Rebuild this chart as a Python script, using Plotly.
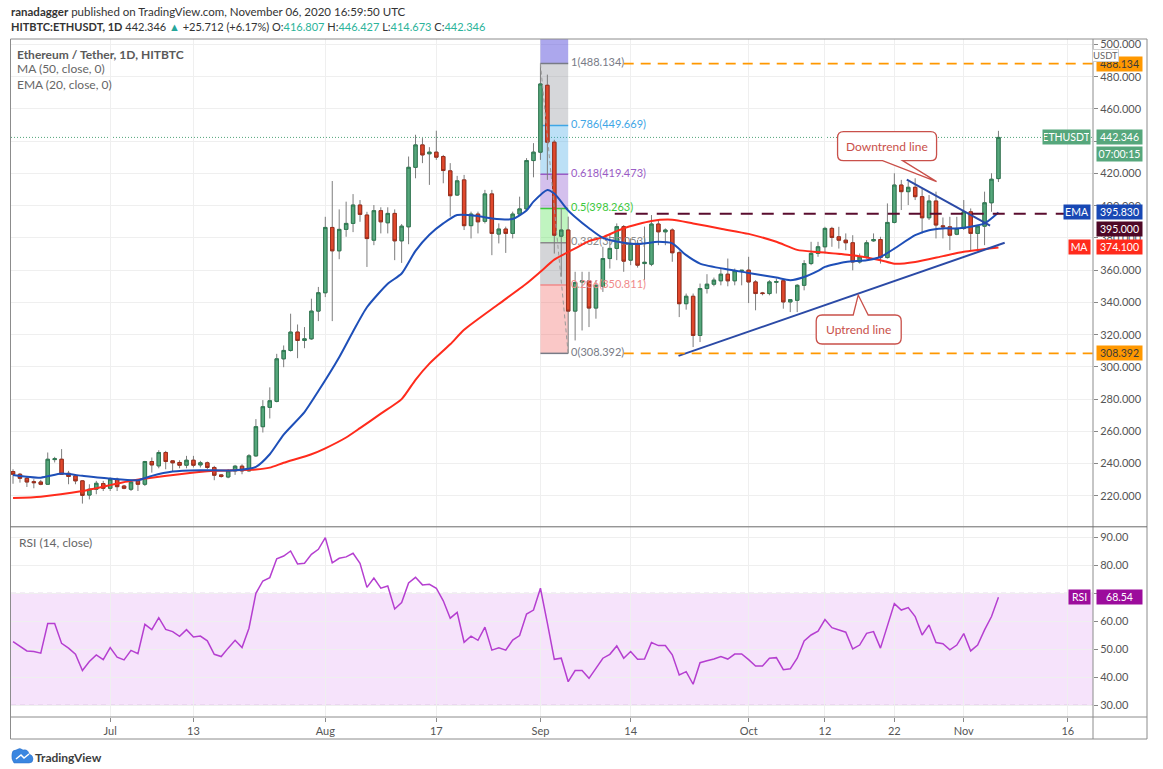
import pandas as pd
import plotly.graph_objects as go

FONT = "Lato"

# ---------------- data ----------------
dates = pd.date_range("2020-06-17", periods=143, freq="D")

open_ = [235.1, 233.4, 230.9, 228.8, 228.6, 227.2, 242.5, 242.7, 234.0, 232.4,
         229.3, 220.5, 224.1, 227.6, 224.7, 230.3, 226.1, 224.1, 229.3, 227.2,
         241.3, 238.6, 246.9, 241.7, 240.7, 239.0, 242.1, 239.2, 240.5, 237.6,
         233.0, 231.7, 235.5, 238.4, 235.5, 244.8, 262.9, 274.9, 278.6, 305.0,
         310.2, 321.6, 316.4, 317.4, 334.6, 346.0, 386.5, 372.0, 385.3, 389.0,
         400.4, 394.2, 378.6, 396.9, 389.4, 395.2, 378.2, 386.9, 423.8, 437.7,
         432.2, 433.2, 430.5, 421.6, 406.6, 416.0, 387.6, 394.8, 390.3, 407.3,
         382.4, 385.5, 382.8, 394.8, 398.0, 428.0, 433.2, 474.7, 439.4, 381.1,
         384.9, 334.6, 352.7, 353.3, 336.5, 350.0, 367.2, 373.5, 387.0, 366.2,
         376.6, 364.1, 363.7, 388.6, 383.8, 384.9, 370.8, 339.2, 343.8, 319.5,
         348.6, 351.3, 353.4, 357.5, 353.4, 359.6, 360.0, 352.7, 345.9, 345.5,
         352.5, 353.4, 340.3, 341.3, 350.6, 364.1, 370.4, 374.5, 385.9, 380.7,
         378.6, 377.0, 365.1, 368.2, 378.2, 379.0, 367.8, 389.6, 412.8, 408.7,
         411.4, 405.6, 392.5, 402.9, 387.5, 386.9, 382.3, 385.9, 396.2, 382.8,
         387.3, 401.8, 416.807]
high = [236.5, 234.2, 232.4, 230.3, 229.9, 246.9, 244.2, 249.0, 235.5, 233.0,
        229.7, 227.2, 229.3, 229.3, 231.3, 231.3, 226.8, 229.7, 230.3, 241.7,
        243.8, 248.3, 247.9, 242.1, 242.1, 244.8, 244.8, 241.7, 241.3, 238.6,
        233.4, 236.5, 239.2, 239.6, 245.9, 267.6, 279.4, 287.3, 308.1, 313.3,
        333.0, 326.3, 324.7, 342.3, 349.6, 393.1, 415.3, 397.7, 402.5, 407.2,
        403.5, 396.2, 400.4, 399.0, 399.0, 397.7, 388.6, 430.5, 444.0, 441.9,
        436.3, 446.5, 431.5, 426.4, 418.5, 419.1, 396.3, 396.3, 409.8, 409.8,
        389.0, 387.0, 396.3, 405.6, 429.5, 438.8, 488.134, 481.3, 440.9, 398.3,
        393.2, 359.0, 359.0, 359.0, 353.7, 374.5, 381.8, 389.0, 388.0, 379.7,
        378.7, 387.0, 394.2, 391.5, 385.9, 385.9, 372.0, 345.5, 345.5, 351.7,
        357.5, 355.4, 361.0, 367.2, 361.0, 360.0, 368.3, 353.8, 346.5, 353.8,
        354.8, 354.2, 341.9, 351.3, 366.2, 377.6, 377.6, 386.9, 386.9, 386.9,
        382.8, 381.7, 370.3, 378.6, 382.8, 380.7, 401.4, 420.1, 416.0, 414.9,
        417.0, 410.8, 406.6, 408.7, 392.7, 393.1, 393.1, 403.5, 398.3, 388.0,
        408.7, 420.1, 446.427]
low = [227.5, 228.2, 225.5, 224.7, 226.6, 226.8, 240.7, 233.0, 227.2, 227.2,
       215.2, 217.8, 221.0, 223.0, 223.0, 223.0, 224.1, 223.0, 223.0, 226.1,
       234.4, 237.1, 236.5, 235.1, 237.1, 237.1, 237.6, 237.6, 236.5, 229.7,
       231.3, 230.9, 233.0, 233.4, 235.1, 244.2, 259.3, 268.0, 278.0, 299.8,
       309.5, 305.4, 311.6, 316.8, 328.4, 343.3, 328.4, 366.8, 380.7, 383.6,
       390.0, 362.0, 375.5, 382.8, 382.8, 366.2, 364.5, 376.1, 417.0, 426.4,
       412.9, 428.4, 413.9, 393.2, 406.0, 384.9, 379.7, 382.8, 389.0, 369.3,
       376.6, 370.7, 379.7, 394.2, 397.3, 417.6, 428.4, 416.0, 370.3, 356.0,
       308.392, 316.4, 322.6, 324.7, 329.9, 346.5, 361.0, 366.2, 359.0, 363.1,
       361.6, 353.8, 362.5, 375.5, 375.5, 365.2, 330.9, 335.5, 312.3, 315.4,
       345.5, 350.0, 350.6, 350.0, 350.6, 350.6, 339.6, 335.1, 344.4, 344.4,
       345.5, 336.1, 334.0, 334.0, 347.5, 363.1, 368.3, 370.3, 374.5, 373.4,
       372.4, 359.9, 364.1, 367.2, 377.6, 364.1, 367.2, 389.0, 397.3, 400.4,
       403.5, 382.8, 391.1, 379.7, 379.7, 372.4, 381.7, 384.9, 372.4, 372.4,
       375.5, 396.2, 414.673]
close = [233.4, 230.9, 228.6, 228.2, 227.2, 242.7, 243.0, 233.4, 232.0, 229.3,
         220.3, 224.1, 227.8, 224.7, 230.3, 225.7, 224.7, 228.6, 227.2, 241.3,
         239.2, 246.9, 241.3, 240.5, 239.0, 242.1, 239.0, 240.5, 237.6, 232.8,
         232.0, 235.5, 238.4, 235.5, 244.8, 262.9, 275.3, 279.0, 305.0, 310.2,
         321.6, 316.4, 317.4, 334.6, 346.0, 386.5, 372.0, 385.3, 389.0, 400.4,
         394.6, 379.6, 396.9, 390.0, 395.2, 378.2, 387.3, 423.8, 437.7, 431.5,
         433.2, 430.1, 421.8, 406.2, 415.4, 387.6, 394.8, 390.0, 407.3, 382.8,
         385.5, 382.8, 394.8, 398.0, 428.0, 433.2, 475.5, 439.4, 381.7, 384.9,
         334.6, 352.3, 353.3, 336.5, 350.6, 367.2, 373.5, 387.0, 365.6, 376.6,
         363.1, 364.9, 388.6, 383.8, 384.9, 370.8, 339.2, 343.8, 319.5, 348.6,
         351.3, 353.8, 357.5, 353.4, 359.6, 359.9, 352.7, 345.5, 345.5, 352.7,
         352.9, 340.3, 341.7, 350.6, 364.1, 370.4, 374.5, 385.9, 380.3, 378.6,
         377.0, 365.1, 368.2, 377.0, 379.0, 367.8, 389.6, 412.8, 408.7, 411.4,
         405.6, 392.5, 402.9, 388.0, 386.9, 381.7, 385.9, 396.2, 382.8, 387.3,
         401.8, 416.4, 442.346]

rsi = [52.7, 50.9, 49.4, 49.2, 48.6, 59.2, 59.2, 52.1, 50.4, 48.2,
       42.4, 45.6, 48.0, 46.3, 50.6, 47.2, 46.2, 49.6, 48.4, 58.9,
       57.0, 61.3, 57.1, 56.3, 54.6, 57.0, 54.4, 54.7, 53.0, 48.2,
       47.4, 50.4, 53.2, 50.6, 57.5, 70.0, 74.4, 75.6, 82.3, 83.3,
       85.1, 80.5, 80.7, 83.9, 85.7, 89.9, 80.9, 82.5, 83.0, 84.3,
       80.7, 72.1, 75.4, 71.8, 72.6, 64.4, 66.7, 73.7, 75.7, 73.0,
       73.2, 71.8, 67.3, 61.1, 63.2, 52.5, 54.7, 53.2, 57.9, 49.7,
       50.5, 49.7, 53.3, 54.9, 62.6, 64.0, 71.8, 59.3, 46.4, 46.8,
       38.4, 42.4, 42.4, 39.6, 43.2, 46.8, 48.2, 51.2, 46.8, 49.2,
       46.4, 46.5, 52.4, 51.3, 51.3, 48.0, 40.8, 42.0, 37.5, 45.2,
       45.9, 46.5, 47.4, 46.5, 48.3, 48.3, 46.3, 44.0, 44.0, 46.8,
       47.0, 42.7, 43.0, 46.8, 53.0, 55.1, 56.5, 60.6, 57.7, 56.8,
       56.1, 50.1, 51.5, 55.7, 56.3, 50.4, 58.7, 66.3, 64.0, 64.9,
       61.7, 55.1, 58.7, 52.4, 52.0, 49.8, 51.5, 55.6, 49.4, 51.5,
       56.9, 61.7, 68.54]

ma_dates = ["2020-06-17", "2020-06-21", "2020-06-27", "2020-07-04", "2020-07-11",
            "2020-07-16", "2020-07-22", "2020-07-24", "2020-07-26", "2020-07-30",
            "2020-08-01", "2020-08-04", "2020-08-06", "2020-08-09", "2020-08-12",
            "2020-08-14", "2020-08-16", "2020-08-19", "2020-08-21", "2020-08-26",
            "2020-08-30", "2020-09-01", "2020-09-03", "2020-09-06", "2020-09-08",
            "2020-09-10", "2020-09-13", "2020-09-17", "2020-09-20", "2020-09-23",
            "2020-09-27", "2020-10-01", "2020-10-05", "2020-10-08", "2020-10-11",
            "2020-10-16", "2020-10-20", "2020-10-22", "2020-10-25", "2020-10-29",
            "2020-11-01", "2020-11-06"]
ma_vals = [218.6, 219.5, 223.0, 229.3, 233.4, 235.5, 236.3, 237.5, 240.5, 245.8,
           249.5, 256.2, 262.0, 271.0, 280.0, 292.0, 302.0, 314.0, 323.0, 339.0,
           351.7, 359.0, 366.5, 373.5, 378.0, 380.5, 386.0, 390.5, 391.3, 389.0,
           385.7, 382.5, 377.6, 372.6, 371.2, 369.2, 366.2, 364.0, 365.1, 368.7,
           371.4, 374.1]

ema_dates = ["2020-06-17", "2020-06-21", "2020-06-24", "2020-06-27", "2020-07-01",
             "2020-07-05", "2020-07-07", "2020-07-10", "2020-07-14", "2020-07-19",
             "2020-07-22", "2020-07-24", "2020-07-26", "2020-07-29", "2020-07-31",
             "2020-08-03", "2020-08-05", "2020-08-07", "2020-08-10", "2020-08-12",
             "2020-08-14", "2020-08-16", "2020-08-18", "2020-08-20", "2020-08-23",
             "2020-08-25", "2020-08-28", "2020-08-30", "2020-08-31", "2020-09-02",
             "2020-09-03", "2020-09-05", "2020-09-06", "2020-09-08", "2020-09-10",
             "2020-09-13", "2020-09-15", "2020-09-18", "2020-09-20", "2020-09-22",
             "2020-09-24", "2020-09-28", "2020-10-01", "2020-10-05", "2020-10-07",
             "2020-10-09", "2020-10-11", "2020-10-12", "2020-10-15", "2020-10-18",
             "2020-10-20", "2020-10-22", "2020-10-25", "2020-10-27", "2020-10-29",
             "2020-10-31", "2020-11-02", "2020-11-04", "2020-11-06"]
ema_vals = [233.0, 231.3, 233.8, 232.4, 230.7, 229.7, 232.4, 235.1, 235.9, 235.9,
            238.0, 245.8, 258.0, 272.0, 285.0, 306.0, 322.0, 337.0, 351.6, 357.9,
            372.0, 382.0, 389.0, 394.2, 393.6, 392.1, 391.7, 397.0, 402.5, 409.8,
            407.5, 397.0, 393.0, 386.0, 380.0, 377.0, 376.2, 377.6, 376.6, 369.3,
            364.1, 360.4, 358.3, 355.4, 353.8, 355.8, 359.6, 362.0, 365.1, 366.2,
            368.2, 373.4, 381.7, 384.8, 385.9, 385.9, 386.9, 389.0, 395.8]

# Fibonacci retracement (from the 1 Sep high to the 5 Sep low)
fib_dates = ["2020-09-01", "2020-09-05"]
fib_levels = [1, 0.786, 0.618, 0.5, 0.382, 0.236, 0]
fib_prices = [488.134, 449.669, 419.473, 398.263, 377.053, 350.811, 308.392]
fib_line_colors = ["#787b86", "#3ea6e6", "#9a5cc6", "#3cc83c", "#8a8a8a", "#f08a8a", "#787b86"]
fib_fill_colors = ["rgba(120,123,134,0.30)", "rgba(64,166,230,0.35)", "rgba(120,60,200,0.32)",
                   "rgba(60,220,60,0.32)", "rgba(120,123,134,0.32)", "rgba(239,83,80,0.32)"]
fib_top_fill = "rgba(90,80,220,0.50)"

uptrend_x = ["2020-09-20 21:30", "2020-11-06 21:30"]
uptrend_y = [306.8, 377.0]
downtrend_x = ["2020-10-23 19:00", "2020-11-04 19:00"]
downtrend_y = [416.2, 387.7]

resistance = 395.0
resistance_start = "2020-09-11 17:00"
fib_ext_start = "2020-09-13 00:00"

last_price = 442.346
ema_last, ma_last, rsi_last = 395.830, 374.100, 68.54

x_start, x_end = "2020-06-16 17:00", "2020-11-19 15:00"

tick_dates = ["2020-07-01", "2020-07-13", "2020-08-01", "2020-08-17", "2020-09-01",
              "2020-09-14", "2020-10-01", "2020-10-12", "2020-10-22", "2020-11-01", "2020-11-16"]
tick_text = ["Jul", "13", "Aug", "17", "Sep", "14", "Oct", "12", "22", "Nov", "16"]
price_ticks = list(range(220, 501, 20))
rsi_ticks = [30, 40, 50, 60, 70, 80, 90]
# tick labels fully covered by the price / RSI value tags
hidden_price_ticks = [440]
hidden_rsi_ticks = [70]

# ---------------- colours ----------------
UP_FILL, UP_LINE = "#56a77c", "#2f7a52"
DN_FILL, DN_LINE = "#e0482c", "#9c2e1c"
WICK = "#7d7d7d"
EMA_C, MA_C, RSI_C = "#1e4fb8", "#ff2b1c", "#b53fd0"
TREND_C = "#2b4aa6"
ORANGE, MAROON = "#ff9800", "#5a0c2e"
GRID = "#efefef"
FRAME = "#8c8c8c"

# pixel helpers (plot area: x 11..1093, y 39..717)
def px(xp):
    return (xp - 11) / 1082.0

def py(yp):
    return (717 - yp) / 678.0

fig = go.Figure()

# fib labels (drawn under the candles)
lab_x = pd.Timestamp(fib_dates[1]) + pd.Timedelta(hours=10)
for lv, pr, col in zip(fib_levels, fib_prices, fib_line_colors):
    fig.add_trace(go.Scatter(x=[lab_x], y=[pr], mode="text",
                             text=[f"{lv}({pr:.3f})"], textposition="middle right",
                             textfont=dict(family=FONT, size=11, color=col),
                             xaxis="x", yaxis="y", hoverinfo="skip", showlegend=False))
# fib diagonal
fig.add_trace(go.Scatter(x=fib_dates, y=[fib_prices[0], fib_prices[-1]], mode="lines",
                         line=dict(color="#9a9a9a", width=1, dash="4px,3px"),
                         xaxis="x", yaxis="y", hoverinfo="skip", showlegend=False))

# candles: wicks (grey) then bodies
fig.add_trace(go.Candlestick(x=dates, open=open_, high=high, low=low, close=close,
                             increasing=dict(line=dict(color=WICK, width=1), fillcolor=UP_FILL),
                             decreasing=dict(line=dict(color=WICK, width=1), fillcolor=DN_FILL),
                             xaxis="x", yaxis="y", hoverinfo="skip", showlegend=False))
body_hi = [max(o, c) for o, c in zip(open_, close)]
body_lo = [min(o, c) for o, c in zip(open_, close)]
fig.add_trace(go.Candlestick(x=dates, open=open_, high=body_hi, low=body_lo, close=close,
                             increasing=dict(line=dict(color=UP_LINE, width=1), fillcolor=UP_FILL),
                             decreasing=dict(line=dict(color=DN_LINE, width=1), fillcolor=DN_FILL),
                             xaxis="x", yaxis="y", hoverinfo="skip", showlegend=False))

fig.add_trace(go.Scatter(x=ma_dates, y=ma_vals, mode="lines",
                         line=dict(color=MA_C, width=2, shape="spline", smoothing=0.6),
                         xaxis="x", yaxis="y", hoverinfo="skip", showlegend=False))
fig.add_trace(go.Scatter(x=ema_dates, y=ema_vals, mode="lines",
                         line=dict(color=EMA_C, width=2, shape="spline", smoothing=0.6),
                         xaxis="x", yaxis="y", hoverinfo="skip", showlegend=False))
fig.add_trace(go.Scatter(x=uptrend_x, y=uptrend_y, mode="lines",
                         line=dict(color=TREND_C, width=2),
                         xaxis="x", yaxis="y", hoverinfo="skip", showlegend=False))
fig.add_trace(go.Scatter(x=downtrend_x, y=downtrend_y, mode="lines",
                         line=dict(color=TREND_C, width=2),
                         xaxis="x", yaxis="y", hoverinfo="skip", showlegend=False))

# RSI
fig.add_trace(go.Scatter(x=dates, y=rsi, mode="lines", line=dict(color=RSI_C, width=1.5),
                         xaxis="x2", yaxis="y2", hoverinfo="skip", showlegend=False))

shapes = []
# fib zones
shapes.append(dict(type="rect", xref="x", yref="y", x0=fib_dates[0], x1=fib_dates[1],
                   y0=fib_prices[0], y1=503.4, fillcolor=fib_top_fill, line_width=0, layer="between"))
for k in range(len(fib_prices) - 1):
    shapes.append(dict(type="rect", xref="x", yref="y", x0=fib_dates[0], x1=fib_dates[1],
                       y0=fib_prices[k + 1], y1=fib_prices[k], fillcolor=fib_fill_colors[k],
                       line_width=0, layer="between"))
for pr, col in zip(fib_prices, fib_line_colors):
    shapes.append(dict(type="line", xref="x", yref="y", x0=fib_dates[0], x1=fib_dates[1],
                       y0=pr, y1=pr, line=dict(color=col, width=1.5), layer="between"))
# price line
shapes.append(dict(type="line", xref="paper", yref="y", x0=0, x1=1, y0=last_price, y1=last_price,
                   line=dict(color="#53a57b", width=1, dash="1px,2px"), layer="between"))
# horizontal drawings
shapes.append(dict(type="line", xref="x", yref="y", x0=resistance_start, x1=x_end,
                   y0=resistance, y1=resistance, line=dict(color=MAROON, width=2, dash="12px,9px")))
for pr in (fib_prices[0], fib_prices[-1]):
    shapes.append(dict(type="line", xref="x", yref="y", x0=fib_ext_start, x1=x_end,
                       y0=pr, y1=pr, line=dict(color=ORANGE, width=1.6, dash="10px,7px")))
# RSI band
shapes.append(dict(type="rect", xref="paper", yref="y2", x0=0, x1=1, y0=30, y1=70,
                   fillcolor="rgba(190,60,230,0.14)", line_width=0, layer="below"))
for lv in (30, 70):
    shapes.append(dict(type="line", xref="paper", yref="y2", x0=0, x1=1, y0=lv, y1=lv,
                       line=dict(color="#cdb3d6", width=1, dash="5px,4px"), layer="between"))

# callout bubbles (pixel paths anchored at data points, y up)
def bubble(L, R, T, B, r, b1, b2, top):
    if top:
        return (f"M{L+r},{T} L{b1},{T} L0,0 L{b2},{T} L{R-r},{T} Q{R},{T} {R},{T-r} "
                f"L{R},{B+r} Q{R},{B} {R-r},{B} L{L+r},{B} Q{L},{B} {L},{B+r} "
                f"L{L},{T-r} Q{L},{T} {L+r},{T} Z")
    return (f"M{L+r},{T} L{R-r},{T} Q{R},{T} {R},{T-r} L{R},{B+r} Q{R},{B} {R-r},{B} "
            f"L{b2},{B} L0,0 L{b1},{B} L{L+r},{B} Q{L},{B} {L},{B+r} "
            f"L{L},{T-r} Q{L},{T} {L+r},{T} Z")

CALL = "#c9504a"
down_tip = ("2020-10-28 02:00", 414.9)
up_tip = ("2020-10-16 19:00", 344.6)
shapes.append(dict(type="path", xref="x", yref="y", xsizemode="pixel", ysizemode="pixel",
                   xanchor=down_tip[0], yanchor=down_tip[1],
                   path=bubble(-99, 0, 50, 21, 6, -54, -34, False),
                   line=dict(color=CALL, width=1.3), fillcolor="white", layer="above"))
shapes.append(dict(type="path", xref="x", yref="y", xsizemode="pixel", ysizemode="pixel",
                   xanchor=up_tip[0], yanchor=up_tip[1],
                   path=bubble(-42, 43, -20, -49, 6, -5, 10, True),
                   line=dict(color=CALL, width=1.3), fillcolor="white", layer="above"))

# frame
shapes.append(dict(type="rect", xref="paper", yref="paper", x0=px(10.5), x1=px(1147), y0=py(739),
                   y1=py(39), line=dict(color=FRAME, width=1), layer="above"))
shapes.append(dict(type="line", xref="paper", yref="paper", x0=1, x1=1, y0=py(739), y1=py(39),
                   line=dict(color=FRAME, width=1), layer="above"))
shapes.append(dict(type="line", xref="paper", yref="paper", x0=px(10.5), x1=px(1147), y0=0, y1=0,
                   line=dict(color=FRAME, width=1), layer="above"))
shapes.append(dict(type="line", xref="paper", yref="paper", x0=px(10.5), x1=px(1147),
                   y0=py(526.8), y1=py(526.8), line=dict(color="#6a6a6a", width=1), layer="above"))
# TradingView logo
shapes.append(dict(type="path", xref="paper", yref="paper", xsizemode="pixel", ysizemode="pixel",
                   xanchor=px(12), yanchor=py(763),
                   path="M2,0 L17,0 Q21,0 21,4 Q21,8 17,9 Q16,14 11,13 Q8,16 4,13 Q0,13 0,9 Q-1,4 2,0 Z",
                   fillcolor="#3a86e0", line=dict(color="#2a6fc8", width=0.5)))
shapes.append(dict(type="path", xref="paper", yref="paper", xsizemode="pixel", ysizemode="pixel",
                   xanchor=px(12), yanchor=py(763),
                   path="M4,4 L9,8 L12,5 L17,9", line=dict(color="white", width=1.5)))

ann = []

def txt(xp, yp, text, size=12, color="#555", anchor="left", **kw):
    ann.append(dict(x=px(xp), y=py(yp), xref="paper", yref="paper", text=text, showarrow=False,
                    xanchor=anchor, yanchor="middle", font=dict(family=FONT, size=size, color=color), **kw))

TEAL = "#2bb39a"
txt(9, 11, "<b>ranadagger</b> published on TradingView.com, November 06, 2020 16:59:50 UTC",
    size=11.5, color="#333")
txt(9, 27, "<b>HITBTC:ETHUSDT, 1D</b> 442.346 <span style='color:#26a69a'>▲</span> +25.712 (+6.17%) "
    f"O:<span style='color:{TEAL}'>416.807</span> H:<span style='color:{TEAL}'>446.427</span> "
    f"L:<span style='color:{TEAL}'>414.673</span> C:<span style='color:{TEAL}'>442.346</span>",
    size=11, color="#333")
txt(15, 54, "<b>Ethereum / Tether, 1D, HITBTC</b>", size=12, color="#5a5a5a")
txt(15, 69, "MA (50, close, 0)", size=12, color="#666")
txt(15, 84, "EMA (20, close, 0)", size=12, color="#666")
txt(17, 542, "RSI (14, close)", size=12, color="#666")
txt(33, 757, "<b>TradingView</b>", size=12, color="#3d3d3d")

# callout texts
ann.append(dict(x=down_tip[0], y=down_tip[1], xref="x", yref="y", text="Downtrend line", showarrow=False,
                xshift=-49.5, yshift=35.5, font=dict(family=FONT, size=12, color=CALL)))
ann.append(dict(x=up_tip[0], y=up_tip[1], xref="x", yref="y", text="Uptrend line", showarrow=False,
                xshift=0.5, yshift=-34.5, font=dict(family=FONT, size=12, color=CALL)))

def axlabel(y, text, bg, fg="white", yref="y", yshift=0, left=False, width=43):
    ann.append(dict(x=1, xref="paper", y=y, yref=yref, text=text, showarrow=False,
                    xanchor="right" if left else "left", yanchor="middle",
                    bgcolor=bg, width=width, height=12, borderpad=1, yshift=yshift,
                    xshift=-2 if left else 3,
                    font=dict(family=FONT, size=10.5, color=fg)))

axlabel(fib_prices[0], f"{fib_prices[0]:.3f}", ORANGE, fg="#3a3a3a")
axlabel(fib_prices[-1], f"{fib_prices[-1]:.3f}", ORANGE, fg="#3a3a3a")
axlabel(last_price, f"{last_price:.3f}", "#56a77c")
axlabel(last_price, "07:00:15", "#56a77c", yshift=-17)
axlabel(last_price, "ETHUSDT", "#56a77c", left=True, width=45)
axlabel(ema_last, f"{ema_last:.3f}", "#1848b4")
axlabel(ema_last, "EMA", "#1848b4", left=True, width=24)
axlabel(resistance, f"{resistance:.3f}", "#4e0826", yshift=-15)
axlabel(ma_last, f"{ma_last:.3f}", "#ff2b1c")
axlabel(ma_last, "MA", "#ff2b1c", left=True, width=19)
axlabel(rsi_last, f"{rsi_last:.2f}", "#9c0c9c", yref="y2")
axlabel(rsi_last, "RSI", "#9c0c9c", yref="y2", left=True, width=19)
ann.append(dict(x=px(1119), y=py(49), xref="paper", yref="paper", text="USDT", showarrow=False,
                bgcolor="white", bordercolor="#cfcfcf", borderwidth=1, borderpad=0,
                font=dict(family=FONT, size=9.5, color="#666")))

axis_font = dict(family=FONT, size=11, color="#555")
fig.update_layout(
    width=1163, height=769,
    margin=dict(l=11, r=70, t=39, b=52),
    paper_bgcolor="white", plot_bgcolor="white",
    showlegend=False, hovermode=False,
    xaxis=dict(domain=[0, 1], anchor="y", range=[x_start, x_end], tickvals=tick_dates,
               showticklabels=False, showgrid=True, gridcolor=GRID, zeroline=False,
               rangeslider=dict(visible=False), ticks=""),
    xaxis2=dict(domain=[0, 1], anchor="y2", range=[x_start, x_end], tickvals=tick_dates,
                ticktext=tick_text, showgrid=True, gridcolor=GRID, zeroline=False,
                ticks="outside", ticklen=4, tickcolor="#888", tickfont=axis_font),
    yaxis=dict(domain=[0.281, 1], anchor="x", side="right", range=[201.0, 503.4],
               tickvals=price_ticks,
               ticktext=["" if v in hidden_price_ticks else f"{v:.3f}" for v in price_ticks],
               showgrid=True, gridcolor=GRID, zeroline=False, ticks="outside", ticklen=4,
               tickcolor="#888", tickfont=axis_font),
    yaxis2=dict(domain=[0, 0.2795], anchor="x2", side="right", range=[25.8, 93.5],
                tickvals=rsi_ticks,
                ticktext=["" if v in hidden_rsi_ticks else f"{v:.2f}" for v in rsi_ticks],
                showgrid=True, gridcolor=GRID, zeroline=False, ticks="outside", ticklen=4,
                tickcolor="#888", tickfont=axis_font),
    shapes=shapes, annotations=ann,
)

fig.write_html("out.html", config={"staticPlot": True},
               post_script="document.body.style.margin='0px';document.body.style.overflow='hidden';")
